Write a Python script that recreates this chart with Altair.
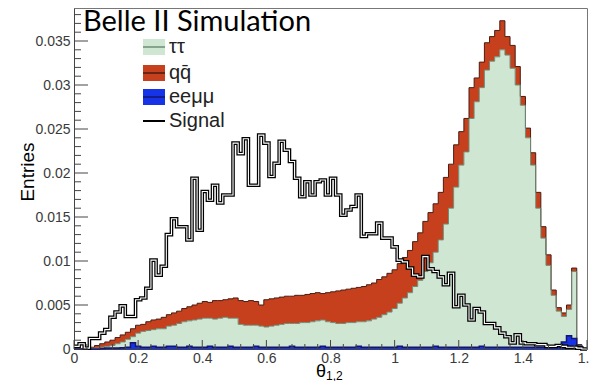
import altair as alt
import pandas as pd

# ---------------- data ----------------
X_MIN, X_MAX = 0.0, 1.6
BIN_WIDTH = 0.016
N_BINS = 100
Y_MAX = 0.03875

# eeμμ contribution (bottom of the stack)
eemumu = [
    0, 0, 0, 0, 0, 0.00005, 0.0001, 0.0001, 0.0001, 0.00015,
    0.0002, 0.0007, 0.0003, 0.0002, 0.0002, 0.0003, 0.0002, 0.0002, 0.0003, 0.0003,
    0.0002, 0.0002, 0.0003, 0.0002, 0.0002, 0.0002, 0.0003, 0.0002, 0.0002, 0.0002,
    0.0003, 0.0002, 0.0002, 0.0002, 0.0002, 0.0003, 0.0002, 0.0002, 0.0002, 0.0002,
    0.0002, 0.0002, 0.0003, 0.0002, 0.0002, 0.0002, 0.0002, 0.0002, 0.0003, 0.0002,
    0.0002, 0.0002, 0.0002, 0.0002, 0.0002, 0.0003, 0.0002, 0.0002, 0.0002, 0.0002,
    0.0002, 0.0002, 0.0002, 0.0003, 0.0002, 0.0002, 0.0002, 0.0002, 0.0002, 0.0002,
    0.0003, 0.0002, 0.0002, 0.0002, 0.0002, 0.0002, 0.0002, 0.0002, 0.0002, 0.0003,
    0.0002, 0.0002, 0.0002, 0.0002, 0.0002, 0.0002, 0.0002, 0.0002, 0.0002, 0.0002,
    0.0002, 0.0002, 0.0002, 0.0002, 0.0003, 0.0008, 0.0015, 0.0012, 0.0003, 0.0,
]

# top of the ττ layer (eeμμ + ττ)
tautau_top = [
    0, 0, 0.00005, 0.0001, 0.0001, 0.0002, 0.0003, 0.0004, 0.0006, 0.0008,
    0.0011, 0.0014, 0.0018, 0.0020, 0.0021, 0.0022, 0.0023, 0.0023, 0.0026, 0.0027,
    0.0029, 0.0031, 0.0032, 0.0033, 0.0034, 0.0035, 0.0035, 0.0034, 0.0035, 0.0036,
    0.0035, 0.0035, 0.0028, 0.0027, 0.0027, 0.0027, 0.0026, 0.0025, 0.0026, 0.0027,
    0.0028, 0.0029, 0.0029, 0.0029, 0.0030, 0.0030, 0.0031, 0.0032, 0.0033, 0.0031,
    0.0030, 0.0029, 0.0029, 0.0030, 0.0030, 0.0031, 0.0031, 0.0032, 0.0034, 0.0036,
    0.0039, 0.0042, 0.0046, 0.0052, 0.0058, 0.0064, 0.0071, 0.0078, 0.0088, 0.0098,
    0.0110, 0.0124, 0.0142, 0.0160, 0.0184, 0.0209, 0.0224, 0.0262, 0.0281, 0.0297,
    0.0317, 0.0327, 0.0332, 0.0340, 0.0334, 0.0319, 0.0300, 0.0277, 0.0240, 0.0209,
    0.0160, 0.0126, 0.0095, 0.0061, 0.0043, 0.0037, 0.0045, 0.0088, 0.0004, 0.0,
]

# top of the whole stack (eeμμ + ττ + qq̄)
total_top = [
    0, 0, 0.0001, 0.0002, 0.0004, 0.0006, 0.0008, 0.0010, 0.0013, 0.0016,
    0.0019, 0.0023, 0.0027, 0.0028, 0.0031, 0.0033, 0.0034, 0.0036, 0.0039, 0.0041,
    0.0043, 0.0046, 0.0048, 0.0050, 0.0052, 0.0054, 0.0053, 0.0055, 0.0055, 0.0056,
    0.0057, 0.0058, 0.0055, 0.0054, 0.0055, 0.0054, 0.0050, 0.0056, 0.0057, 0.0058,
    0.0059, 0.0060, 0.0060, 0.0061, 0.0061, 0.0062, 0.0063, 0.0064, 0.0063, 0.0064,
    0.0065, 0.0066, 0.0067, 0.0068, 0.0069, 0.0070, 0.0071, 0.0073, 0.0075, 0.0079,
    0.0082, 0.0086, 0.0090, 0.0097, 0.0104, 0.0112, 0.0122, 0.0132, 0.0145, 0.0155,
    0.0165, 0.0178, 0.0195, 0.0210, 0.0232, 0.0247, 0.0262, 0.0297, 0.0308, 0.0326,
    0.0348, 0.0355, 0.0362, 0.0373, 0.0355, 0.0345, 0.0321, 0.0287, 0.0251, 0.0223,
    0.0178, 0.0139, 0.0107, 0.0067, 0.0047, 0.0041, 0.0050, 0.0092, 0.0005, 0.0,
]

signal = [
    0.0003, 0.0006, 0.0001, 0.0012, 0.0012, 0.0018, 0.0022, 0.0036, 0.0042, 0.0049,
    0.0037, 0.0037, 0.0056, 0.0058, 0.0069, 0.0101, 0.0084, 0.0094, 0.0130, 0.0148,
    0.0139, 0.0139, 0.0124, 0.0194, 0.0135, 0.0179, 0.0169, 0.0186, 0.0166, 0.0175,
    0.0175, 0.0234, 0.0222, 0.0239, 0.0186, 0.0186, 0.0243, 0.0234, 0.0196, 0.0211,
    0.0236, 0.0226, 0.0213, 0.0194, 0.0173, 0.0190, 0.0175, 0.0190, 0.0192, 0.0175,
    0.0194, 0.0175, 0.0152, 0.0158, 0.0162, 0.0175, 0.0128, 0.0131, 0.0131, 0.0143,
    0.0126, 0.0126, 0.0116, 0.0101, 0.0099, 0.0092, 0.0084, 0.0082, 0.0105, 0.0091,
    0.0088, 0.0082, 0.0073, 0.0086, 0.0048, 0.0061, 0.0050, 0.0033, 0.0046, 0.0042,
    0.0029, 0.0029, 0.0024, 0.0018, 0.0014, 0.0007, 0.0016, 0.0007, 0.0006, 0.0006,
    0.0005, 0.0005, 0.0003, 0.0003, 0.0004, 0.0003, 0.0002, 0.0002, 0.0001, 0.0,
]

x_ticks_major = [0, 0.2, 0.4, 0.6, 0.8, 1.0, 1.2, 1.4, 1.6]
x_ticks_minor = [round(0.04 * i, 2) for i in range(41) if i % 5 != 0]
y_ticks_major = [0, 0.005, 0.01, 0.015, 0.02, 0.025, 0.03, 0.035]
y_ticks_minor = [round(0.001 * i, 3) for i in range(39) if i % 5 != 0]

legend_labels = ["\u03c4\u03c4", "qq\u0304", "ee\u03bc\u03bc", "Signal"]

# ---------------- styles ----------------
GREEN_FILL, GREEN_LINE = "#cfe6d3", "#6e8c76"
RED_FILL, RED_LINE = "#c6401d", "#4a1d12"
BLUE_FILL, BLUE_LINE = "#1733e8", "#14166e"
W, H = 513, 341
FONT = "Liberation Sans"

edges = [round(i * BIN_WIDTH, 3) for i in range(N_BINS + 1)]


def close(vals):
    return list(vals) + [vals[-1]]


df = pd.DataFrame({
    "x": edges,
    "ee": close(eemumu),
    "tt": close(tautau_top),
    "tot": close(total_top),
    "sig": close(signal),
})

xscale = alt.Scale(domain=[X_MIN, X_MAX], nice=False, zero=False)
yscale = alt.Scale(domain=[0, Y_MAX], nice=False)
xaxis = alt.Axis(values=x_ticks_major, format="~g", title=None, ticks=False, grid=False,
                 labelFontSize=14, labelFont=FONT, labelColor="#3a3a3a", labelPadding=2,
                 domainColor="#444", labelFlush=False)
yaxis = alt.Axis(values=y_ticks_major, format="~g", title=None, ticks=False, grid=False,
                 labelFontSize=14, labelFont=FONT, labelColor="#3a3a3a", labelPadding=4,
                 domainColor="#444")


def X(field):
    return alt.X(f"{field}:Q", scale=xscale, axis=xaxis)


def Y(field):
    return alt.Y(f"{field}:Q", scale=yscale, axis=yaxis)


base = alt.Chart(df)

red_area = base.mark_area(interpolate="step-after", color=RED_FILL).encode(
    x=X("x"), y=Y("tot"), y2="tt:Q")
green_area = base.mark_area(interpolate="step-after", color=GREEN_FILL).encode(
    x=X("x"), y=Y("tt"), y2="ee:Q")
blue_area = base.mark_area(interpolate="step-after", color=BLUE_FILL).encode(
    x=X("x"), y=Y("ee"), y2=alt.datum(0))
red_line = base.mark_line(interpolate="step-after", color=RED_LINE, strokeWidth=1).encode(
    x=X("x"), y=Y("tot"))
green_line = base.mark_line(interpolate="step-after", color=GREEN_LINE, strokeWidth=1).encode(
    x=X("x"), y=Y("tt"))
blue_line = base.mark_line(interpolate="step-after", color=BLUE_LINE, strokeWidth=1.5).encode(
    x=X("x"), y=Y("ee"))
sig_outer = base.mark_line(interpolate="step-after", color="black", strokeWidth=3.6).encode(
    x=X("x"), y=Y("sig"))
sig_inner = base.mark_line(interpolate="step-after", color="white", strokeWidth=1.1).encode(
    x=X("x"), y=Y("sig"))

# inner ticks (ROOT style)
ytmaj = alt.Chart(pd.DataFrame({"v": y_ticks_major})).mark_rule(color="#444").encode(
    y=Y("v"), x=alt.value(0), x2=alt.value(14))
ytmin = alt.Chart(pd.DataFrame({"v": y_ticks_minor})).mark_rule(color="#444").encode(
    y=Y("v"), x=alt.value(0), x2=alt.value(7))
xtmaj = alt.Chart(pd.DataFrame({"v": x_ticks_major})).mark_rule(color="#444").encode(
    x=X("v"), y=alt.value(H), y2=alt.value(H - 9))
xtmin = alt.Chart(pd.DataFrame({"v": x_ticks_minor})).mark_rule(color="#444").encode(
    x=X("v"), y=alt.value(H), y2=alt.value(H - 5))

one = pd.DataFrame({"a": [0]})


def txt(s, x, y, size, font=FONT, angle=0, align="left", baseline="alphabetic", color="black"):
    kw = dict(font=font, fontSize=size, align=align, baseline=baseline, color=color, text=s)
    if angle:
        kw["angle"] = angle
    return alt.Chart(one).mark_text(**kw).encode(x=alt.value(x), y=alt.value(y))


title = txt("Belle II Simulation", 9, 23, 29, font="Lato")
ytitle = txt("Entries", -46, 164, 19, angle=270, align="center", baseline="middle")
xtitle = txt("\u03b8", 242, 369, 18, align="left")
xsub = txt("1,2", 252, 372, 12, align="left")

# legend
leg = []
rows = [39, 65, 89, 113]
fills = [(GREEN_FILL, GREEN_LINE), (RED_FILL, RED_LINE), (BLUE_FILL, BLUE_LINE)]
for i, (lab, cy) in enumerate(zip(legend_labels, rows)):
    if i < 3:
        f, l = fills[i]
        leg.append(alt.Chart(one).mark_rect(color=f).encode(
            x=alt.value(69), x2=alt.value(91), y=alt.value(cy - 8), y2=alt.value(cy + 8)))
        leg.append(alt.Chart(one).mark_rule(color=l, strokeWidth=1.5).encode(
            x=alt.value(69), x2=alt.value(91), y=alt.value(cy)))
    else:
        leg.append(alt.Chart(one).mark_rule(color="black", strokeWidth=2).encode(
            x=alt.value(69), x2=alt.value(91), y=alt.value(cy)))
    leg.append(txt(lab, 95, cy, 20, baseline="middle", color="#222"))

chart = alt.layer(
    red_area, green_area, blue_area, red_line, green_line, blue_line,
    sig_outer, sig_inner, ytmaj, ytmin, xtmaj, xtmin,
    title, ytitle, xtitle, xsub, *leg,
).properties(
    width=W, height=H,
    autosize=alt.AutoSizeParams(type="none"),
    padding={"left": 66, "top": 0, "right": 2, "bottom": 32},
).configure_view(stroke="#777", strokeWidth=1)

chart.save("out.html", embed_options={"renderer": "svg", "actions": False})
